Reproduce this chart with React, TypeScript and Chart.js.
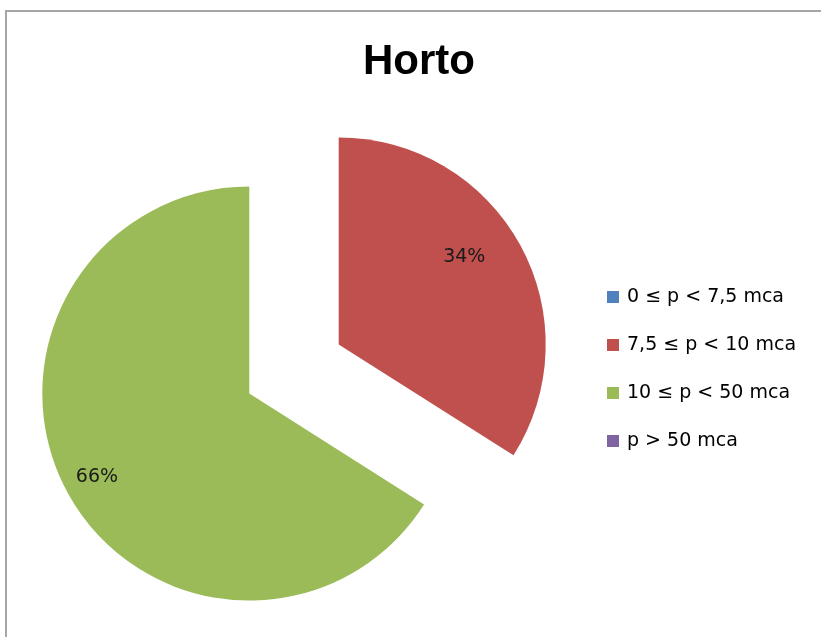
import React, { useEffect, useRef } from "react";
import { Chart, registerables } from "chart.js";

Chart.register(...registerables);

const chartTitle = "Horto";
const categories = ["0 ≤ p < 7,5 mca", "7,5 ≤ p < 10 mca", "10 ≤ p < 50 mca", "p > 50 mca"];
const values = [0, 34, 66, 0];
const colors = ["#4F81BD", "#C0504D", "#9BBB59", "#8064A2"];

const EXPLODE = 51;
const RADIUS = 207;
// label placement within each slice: fraction of the slice's angle, fraction of radius
const LABEL_PLACEMENT = [
  { f: 0.5, k: 0.8 },
  { f: 0.45, k: 0.74 },
  { f: 0.5, k: 0.84 },
  { f: 0.5, k: 0.8 },
];

const explodePlugin = {
  id: "explode",
  afterDatasetsUpdate(chart: any) {
    const meta = chart.getDatasetMeta(0);
    meta.data.forEach((arc: any) => {
      const mid = (arc.startAngle + arc.endAngle) / 2;
      arc.x += Math.cos(mid) * EXPLODE;
      arc.y += Math.sin(mid) * EXPLODE;
    });
  },
};

const decorPlugin = {
  id: "decor",
  beforeDraw(chart: any) {
    const ctx = chart.ctx;
    ctx.save();
    ctx.fillStyle = "#ffffff";
    ctx.fillRect(0, 0, chart.width, chart.height);
    ctx.strokeStyle = "#a6a6a6";
    ctx.lineWidth = 2;
    ctx.strokeRect(6, 11, 900, 700);
    ctx.restore();
  },
  afterDatasetsDraw(chart: any) {
    const ctx = chart.ctx;
    const meta = chart.getDatasetMeta(0);
    ctx.save();
    ctx.font = "19px 'DejaVu Sans'";
    ctx.fillStyle = "#1a1a1a";
    ctx.textAlign = "center";
    ctx.textBaseline = "middle";
    meta.data.forEach((arc: any, i: number) => {
      const v = values[i];
      if (!v) return;
      const p = LABEL_PLACEMENT[i];
      const a = arc.startAngle + (arc.endAngle - arc.startAngle) * p.f;
      const r = arc.outerRadius * p.k;
      ctx.fillText(v + "%", arc.x + Math.cos(a) * r, arc.y + Math.sin(a) * r);
    });
    ctx.fillStyle = "#000000";
    ctx.font = "bold 42px 'Liberation Sans'";
    ctx.fillText(chartTitle, 419, 62);
    ctx.font = "19px 'DejaVu Sans'";
    ctx.textAlign = "left";
    categories.forEach((c, i) => {
      const y = 297 + i * 48;
      ctx.fillStyle = colors[i];
      ctx.fillRect(607, y - 6, 12, 12);
      ctx.fillStyle = "#000000";
      ctx.fillText(c, 627, y);
    });
    ctx.restore();
  },
};

export default function App() {
  const ref = useRef<HTMLCanvasElement>(null);
  useEffect(() => {
    document.body.style.margin = "0";
    const chart = new Chart(ref.current as HTMLCanvasElement, {
      type: "pie",
      data: {
        labels: categories,
        datasets: [
          {
            data: values,
            backgroundColor: colors,
            borderWidth: 0,
            radius: RADIUS,
            clip: false,
          } as any,
        ],
      },
      options: {
        responsive: false,
        animation: false,
        devicePixelRatio: 1,
        layout: { padding: { left: 0, right: 233, top: 110, bottom: 9 } },
        plugins: {
          legend: { display: false },
          title: { display: false },
          tooltip: { enabled: false },
        },
      },
      plugins: [explodePlugin, decorPlugin],
    });
    return () => chart.destroy();
  }, []);
  return (
    <div style={{ width: 821, height: 637, overflow: "hidden" }}>
      <canvas ref={ref} width={821} height={637} style={{ display: "block" }} />
    </div>
  );
}
